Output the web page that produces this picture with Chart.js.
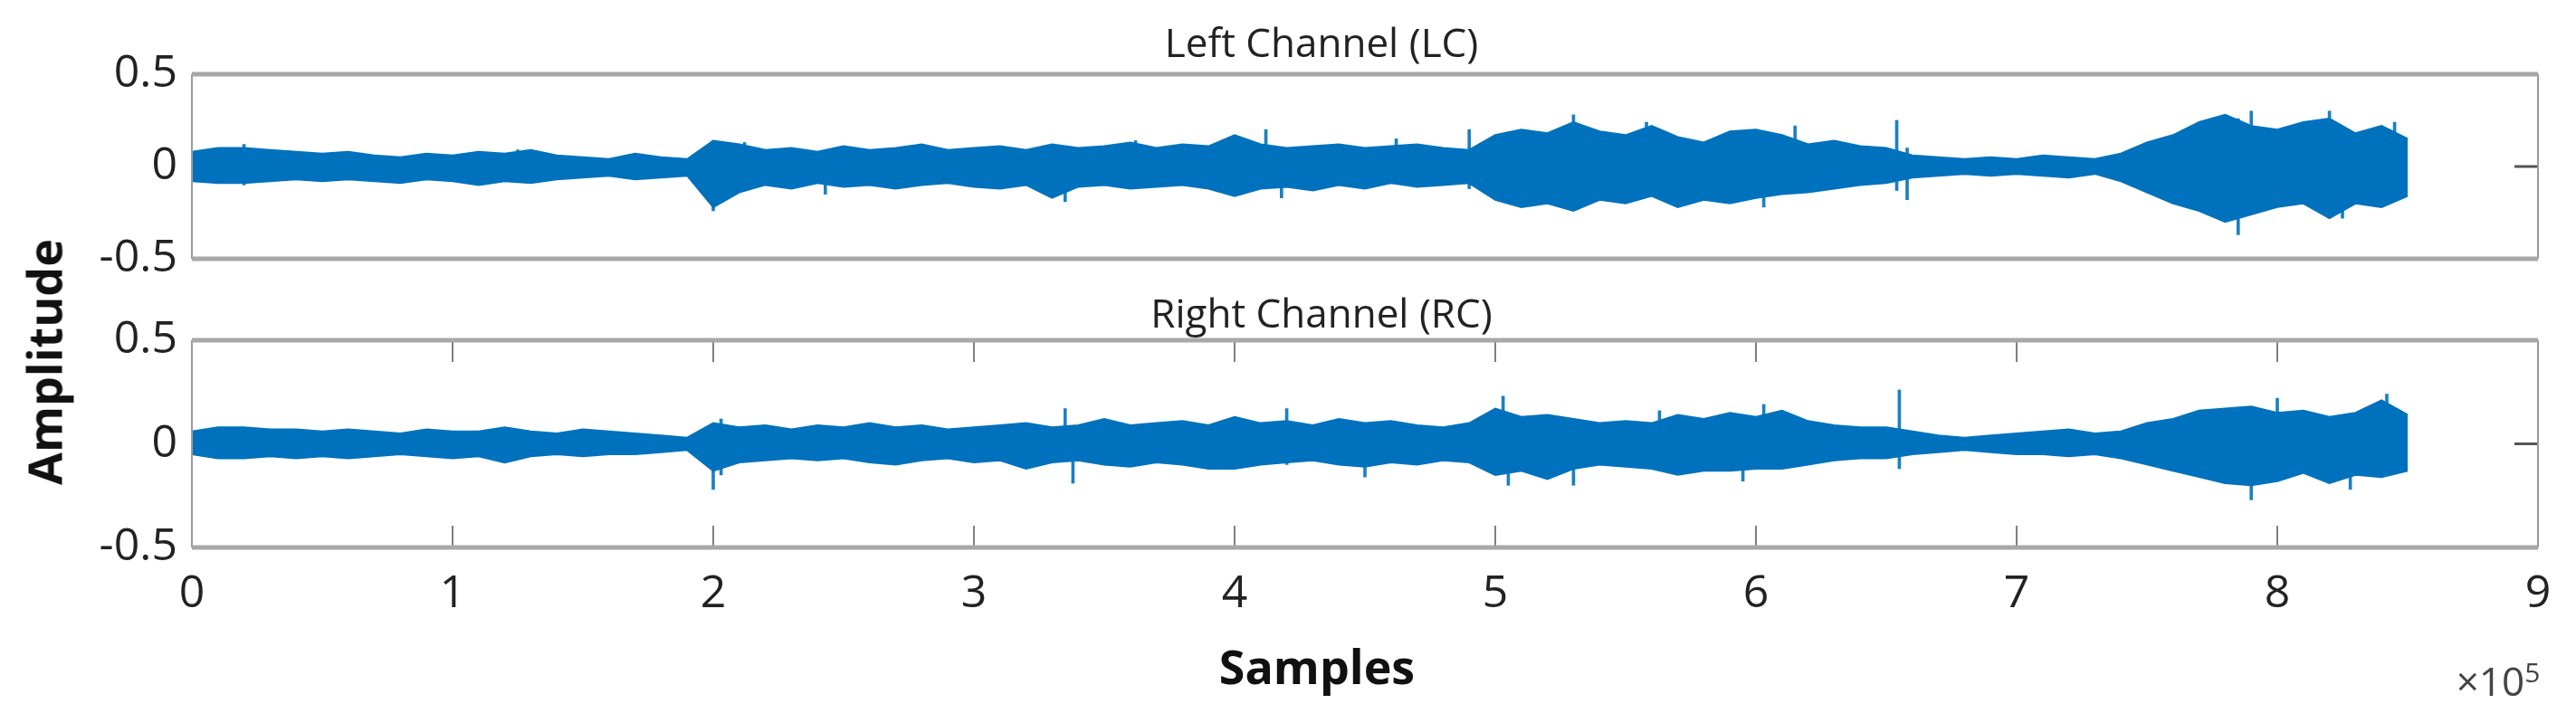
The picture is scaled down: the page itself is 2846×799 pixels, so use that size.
<!DOCTYPE html>
<html>
<head>
<meta charset="utf-8">
<script src="https://cdn.jsdelivr.net/npm/chart.js@4.4.0/dist/chart.umd.min.js"></script>
<style>
  body { margin: 0; width: 2846px; height: 799px; background: #fff; position: relative; overflow: hidden; font-family: "Open Sans", sans-serif; }
  canvas { position: absolute; left: 0; }
  .lbl { position: absolute; color: #222; white-space: nowrap; transform: translate(-50%, -50%); }
</style>
</head>
<body>
<canvas id="lcChart" style="top:0"></canvas>
<canvas id="rcChart" style="top:330px"></canvas>
<div class="lbl" style="left:1460px; top:46px; font-size:44px;">Left Channel (LC)</div>
<div class="lbl" style="left:1460px; top:345px; font-size:44px;">Right Channel (RC)</div>
<div class="lbl" style="left:48px; top:400px; font-size:52px; font-weight:bold; color:#111; transform: translate(-50%, -50%) rotate(-90deg);">Amplitude</div>
<div class="lbl" style="left:1455px; top:735px; font-size:52px; font-weight:bold; color:#111;">Samples</div>
<div class="lbl" style="left:2760px; top:752px; font-size:44px; color:#444;">×10<sup style="font-size:30px">5</sup></div>
<script>
// Envelope of each channel, one value every 10 000 samples
const sampleStep = 10000;
const lcUpper = [0.08,0.10,0.10,0.09,0.08,0.07,0.08,0.06,0.05,0.07,0.06,0.08,0.07,0.09,0.06,0.05,0.04,0.07,0.05,0.04,
  0.14,0.12,0.09,0.10,0.08,0.11,0.09,0.10,0.12,0.09,0.10,0.11,0.09,0.12,0.10,0.11,0.13,0.10,0.12,0.11,
  0.17,0.12,0.10,0.11,0.12,0.10,0.11,0.12,0.10,0.09,
  0.17,0.20,0.18,0.24,0.19,0.17,0.22,0.16,0.13,0.19,0.20,0.17,0.12,0.14,0.11,0.10,
  0.06,0.05,0.04,0.05,0.04,0.06,0.05,0.04,0.07,
  0.13,0.17,0.24,0.28,0.22,0.20,0.24,0.26,0.18,0.22,0.15];
const lcLower = [-0.08,-0.09,-0.09,-0.08,-0.07,-0.08,-0.07,-0.08,-0.09,-0.07,-0.08,-0.10,-0.08,-0.09,-0.07,-0.06,-0.05,-0.07,-0.06,-0.05,
  -0.22,-0.14,-0.10,-0.12,-0.09,-0.11,-0.10,-0.12,-0.10,-0.09,-0.11,-0.12,-0.10,-0.17,-0.11,-0.10,-0.12,-0.11,-0.10,-0.12,
  -0.16,-0.12,-0.11,-0.13,-0.10,-0.12,-0.09,-0.11,-0.10,-0.09,
  -0.18,-0.22,-0.20,-0.24,-0.18,-0.20,-0.16,-0.22,-0.18,-0.20,-0.17,-0.15,-0.14,-0.12,-0.10,-0.09,
  -0.06,-0.05,-0.04,-0.05,-0.04,-0.05,-0.06,-0.04,-0.08,
  -0.14,-0.20,-0.24,-0.30,-0.26,-0.22,-0.20,-0.28,-0.20,-0.22,-0.16];
const rcUpper = [0.06,0.08,0.08,0.07,0.07,0.06,0.07,0.06,0.05,0.07,0.06,0.06,0.08,0.06,0.05,0.07,0.06,0.05,0.04,0.03,
  0.10,0.08,0.09,0.07,0.09,0.08,0.10,0.08,0.09,0.07,0.08,0.09,0.10,0.08,0.09,0.12,0.09,0.10,0.11,0.09,
  0.13,0.10,0.11,0.09,0.12,0.10,0.11,0.09,0.08,0.10,
  0.17,0.13,0.14,0.12,0.10,0.11,0.10,0.14,0.12,0.15,0.13,0.16,0.11,0.09,0.08,0.08,
  0.06,0.04,0.03,0.04,0.05,0.06,0.07,0.05,0.06,
  0.10,0.12,0.16,0.17,0.18,0.15,0.16,0.13,0.15,0.21,0.14];
const rcLower = [-0.05,-0.07,-0.07,-0.06,-0.07,-0.06,-0.07,-0.06,-0.05,-0.06,-0.07,-0.06,-0.09,-0.06,-0.05,-0.06,-0.05,-0.05,-0.04,-0.03,
  -0.13,-0.09,-0.08,-0.07,-0.08,-0.07,-0.09,-0.10,-0.08,-0.07,-0.09,-0.08,-0.12,-0.09,-0.08,-0.10,-0.11,-0.09,-0.10,-0.12,
  -0.12,-0.10,-0.09,-0.08,-0.10,-0.11,-0.09,-0.10,-0.08,-0.09,
  -0.15,-0.13,-0.17,-0.12,-0.10,-0.11,-0.12,-0.15,-0.13,-0.13,-0.12,-0.12,-0.10,-0.08,-0.07,-0.07,
  -0.05,-0.04,-0.03,-0.04,-0.05,-0.05,-0.06,-0.05,-0.07,
  -0.10,-0.13,-0.16,-0.19,-0.20,-0.18,-0.14,-0.19,-0.15,-0.16,-0.13];

// Isolated peaks sticking out of the envelope: sample, min, max
const lcSpikeAt  = [20000, 125000, 200000, 205000, 212000, 243000, 335000, 362000, 412000, 418000, 462000, 490000, 530000, 558000, 603000, 615000, 654000, 658000, 785000, 790000, 820000, 825000, 845000];
const lcSpikeMin = [-0.10, -0.05, -0.24, -0.16, -0.13, -0.15, -0.19, -0.08, -0.10, -0.17, -0.08, -0.12, -0.15, -0.14, -0.22, -0.12, -0.13, -0.18, -0.37, -0.20, -0.18, -0.28, -0.15];
const lcSpikeMax = [0.12, 0.09, 0.14, 0.12, 0.13, 0.08, 0.10, 0.14, 0.20, 0.10, 0.15, 0.20, 0.28, 0.24, 0.15, 0.22, 0.25, 0.10, 0.26, 0.30, 0.30, 0.18, 0.24];
const rcSpikeAt  = [200000, 203000, 335000, 338000, 420000, 450000, 503000, 505000, 530000, 563000, 595000, 603000, 655000, 790000, 800000, 828000, 842000];
const rcSpikeMin = [-0.22, -0.15, -0.08, -0.19, -0.10, -0.16, -0.12, -0.20, -0.20, -0.10, -0.18, -0.10, -0.12, -0.27, -0.18, -0.22, -0.14];
const rcSpikeMax = [0.08, 0.12, 0.17, 0.08, 0.17, 0.10, 0.23, 0.14, 0.12, 0.16, 0.10, 0.19, 0.26, 0.16, 0.22, 0.14, 0.24];

const xTicks = [0, 1, 2, 3, 4, 5, 6, 7, 8, 9];   // x 10^5
const yTicks = [-0.5, 0, 0.5];

const blue = '#0072BD';
const tickFont = { family: 'Open Sans', size: 50 };

function toPoints(arr) {
  return arr.map((v, i) => ({ x: i * sampleStep, y: v }));
}

// Box frame with inward tick marks, drawn from the scales
const framePlugin = {
  id: 'frame',
  afterDraw(chart, args, opts) {
    const { ctx, chartArea: a, scales } = chart;
    ctx.save();
    ctx.strokeStyle = '#555';
    ctx.lineWidth = 1.5;
    if (opts.xTicks) {
      xTicks.forEach(t => {
        const px = scales.x.getPixelForValue(t * 1e5);
        ctx.beginPath();
        ctx.moveTo(px, a.bottom); ctx.lineTo(px, a.bottom - 24);
        ctx.moveTo(px, a.top); ctx.lineTo(px, a.top + 24);
        ctx.stroke();
      });
    }
    const py = scales.y.getPixelForValue(0);
    ctx.lineWidth = 3;
    ctx.beginPath();
    ctx.moveTo(a.right, py); ctx.lineTo(a.right - 26, py);
    ctx.stroke();
    ctx.strokeStyle = '#9a9a9a';
    ctx.lineWidth = 2;
    ctx.beginPath();
    ctx.moveTo(a.left, a.top); ctx.lineTo(a.left, a.bottom);
    ctx.moveTo(a.right, a.top); ctx.lineTo(a.right, a.bottom);
    ctx.stroke();
    ctx.strokeStyle = '#a8a8a8';
    ctx.lineWidth = 5;
    ctx.beginPath();
    ctx.moveTo(a.left, a.top); ctx.lineTo(a.right, a.top);
    ctx.moveTo(a.left, a.bottom); ctx.lineTo(a.right, a.bottom);
    ctx.stroke();
    ctx.restore();
  }
};

function makeChart(id, upper, lower, spikeAt, spikeMin, spikeMax, height, padTop, padBottom, showX) {
  const el = document.getElementById(id);
  el.width = 2846; el.height = height;
  el.style.width = '2846px'; el.style.height = height + 'px';
  return new Chart(el, {
    type: 'line',
    data: {
      datasets: [
        { data: toPoints(upper), borderColor: blue, backgroundColor: blue, borderWidth: 2, pointRadius: 0, fill: '+1', tension: 0 },
        { data: toPoints(lower), borderColor: blue, backgroundColor: blue, borderWidth: 2, pointRadius: 0, fill: false, tension: 0 },
        { type: 'bar', data: spikeAt.map((x, i) => ({ x, y: [spikeMin[i], spikeMax[i]] })),
          backgroundColor: '#1a80c4', borderWidth: 0, barThickness: 3, grouped: false }
      ]
    },
    options: {
      responsive: false,
      animation: false,
      devicePixelRatio: 1,
      layout: { padding: { top: padTop, bottom: padBottom, left: 0, right: 42 } },
      plugins: { legend: { display: false }, tooltip: { enabled: false }, frame: { xTicks: showX } },
      scales: {
        x: {
          type: 'linear', min: 0, max: 900000, offset: false,
          display: showX,
          grid: { display: false, drawTicks: false, offset: false },
          border: { display: false },
          afterBuildTicks: s => { s.ticks = xTicks.map(t => ({ value: t * 1e5 })); },
          afterFit: s => { s.height = height - padTop - 232; },
          ticks: { color: '#222', font: tickFont, padding: 22, maxRotation: 0, callback: v => String(v / 1e5) }
        },
        y: {
          min: -0.5, max: 0.5,
          grid: { display: false, drawTicks: false },
          border: { display: false },
          afterBuildTicks: s => { s.ticks = yTicks.map(t => ({ value: t })); },
          afterFit: s => { s.width = 212; },
          ticks: { color: '#222', font: tickFont, padding: 16, callback: v => String(v) }
        }
      }
    },
    plugins: [framePlugin]
  });
}

makeChart('lcChart', lcUpper, lcLower, lcSpikeAt, lcSpikeMin, lcSpikeMax, 340, 82, 28, false);
makeChart('rcChart', rcUpper, rcLower, rcSpikeAt, rcSpikeMin, rcSpikeMax, 469, 43, 0, true);
</script>
</body>
</html>
